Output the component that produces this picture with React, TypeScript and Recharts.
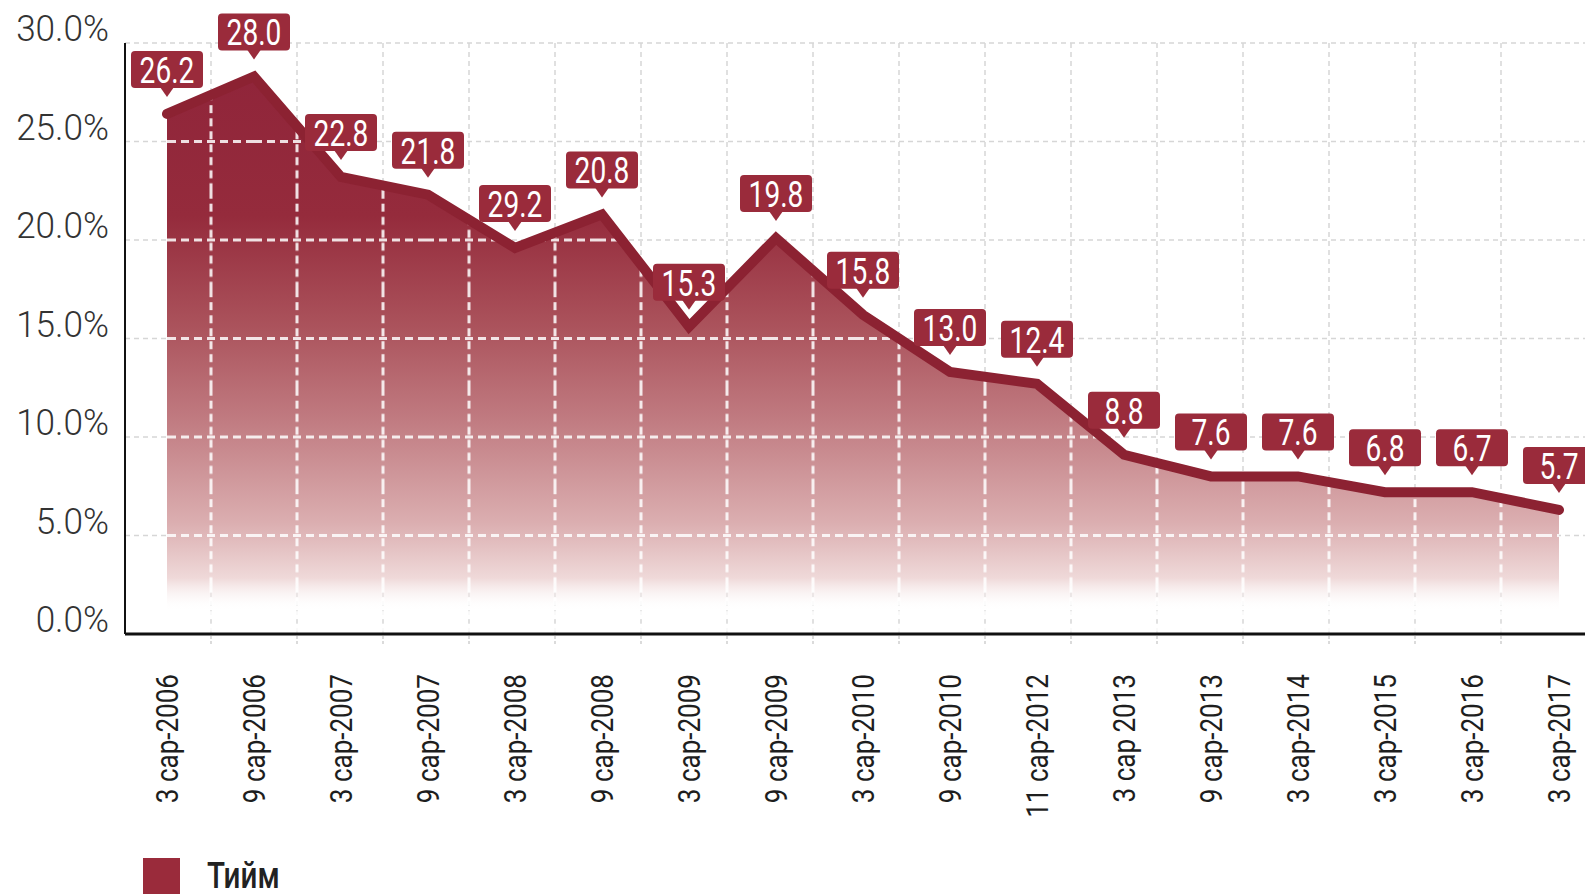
import React from 'react';
import { AreaChart, Area, XAxis, YAxis, CartesianGrid, Legend, LabelList } from 'recharts';

const periods = [
  '3 сар-2006', '9 сар-2006', '3 сар-2007', '9 сар-2007', '3 сар-2008', '9 сар-2008',
  '3 сар-2009', '9 сар-2009', '3 сар-2010', '9 сар-2010', '11 сар-2012', '3 сар 2013',
  '9 сар-2013', '3 сар-2014', '3 сар-2015', '3 сар-2016', '3 сар-2017',
];
const values = [26.4, 28.3, 23.2, 22.3, 19.6, 21.3, 15.6, 20.1, 16.2, 13.3, 12.7, 9.1, 8.0, 8.0, 7.2, 7.2, 6.3];
const callouts = ['26.2', '28.0', '22.8', '21.8', '29.2', '20.8', '15.3', '19.8', '15.8', '13.0', '12.4', '8.8', '7.6', '7.6', '6.8', '6.7', '5.7'];
const yTicks = [0, 5, 10, 15, 20, 25, 30];
const seriesName = 'Тийм';

const data = periods.map((period, i) => ({ period, value: values[i], callout: callouts[i] }));

// layout
const CHART_W = 1612;
const CHART_H = 896;
const MARGIN = { top: 43, right: 25, bottom: 62, left: 0 };
const Y_AXIS_W = 125;
const X_AXIS_H = 200;
const PLOT_LEFT = MARGIN.left + Y_AXIS_W;
const PLOT_TOP = MARGIN.top;
const PLOT_W = CHART_W - PLOT_LEFT - MARGIN.right;
const PLOT_H = CHART_H - MARGIN.top - MARGIN.bottom - X_AXIS_H;
const BANDS = periods.length;
const GRID_STEP = PLOT_W / BANDS;
const Y_STEP = PLOT_H / (yTicks.length - 1);

// no condensed font installed, so regular Roboto is squeezed horizontally
const FONT = "Roboto, 'Noto Sans', sans-serif";
const RED = '#9a2b3b';
const LINE = '#8c2232';

const Callout = (props: any) => {
  const { x, y, index } = props;
  if (x == null || y == null) return null;
  const w = 72;
  const h = 37;
  const tip = y - 17;
  const bottom = tip - 9;
  const top = bottom - h;
  return (
    <g>
      <rect x={x - w / 2} y={top} width={w} height={h} rx={4} fill={RED} />
      <path d={`M${x - 7},${bottom - 1} L${x + 7},${bottom - 1} L${x},${tip} Z`} fill={RED} />
      <g transform={`translate(${x},${top + h / 2}) scale(0.76,1)`}>
        <text x={0} y={0} dy="0.36em" textAnchor="middle" fill="#fff" fontFamily={FONT} fontSize={37}>
          {data[index].callout}
        </text>
      </g>
    </g>
  );
};

const XTick = (props: any) => {
  const { x, y, payload, index } = props;
  const gx = PLOT_LEFT + (index + 1) * GRID_STEP;
  return (
    <g>
      {index < BANDS - 1 && (
        <line x1={gx} y1={y + 2} x2={gx} y2={y + 10} stroke="#cfcfcf" strokeWidth={1.5} strokeDasharray="3 2" />
      )}
      <g transform={`translate(${x},${y + 40}) rotate(-90) scale(0.84,1)`}>
        <text x={0} y={0} textAnchor="end" dy="0.36em" fill="#1e1e1e" fontFamily={FONT} fontSize={31}>
          {payload.value}
        </text>
      </g>
    </g>
  );
};

const YTick = (props: any) => {
  const { x, y, payload } = props;
  return (
    <g transform={`translate(${x},${y - 15}) scale(0.95,1)`}>
      <text x={0} y={0} dy="0.36em" textAnchor="end" fill="#333" fontFamily={FONT} fontWeight={300} fontSize={37}>
        {Number(payload.value).toFixed(1)}%
      </text>
    </g>
  );
};

const LegendContent = () => (
  <div style={{ display: 'flex', alignItems: 'center', height: 36 }}>
    <div style={{ width: 37, height: 36, background: RED }} />
    <span style={{
      marginLeft: 27, fontFamily: FONT, fontWeight: 500, fontSize: 37, lineHeight: '36px', color: '#222',
      display: 'inline-block', transform: 'scaleX(0.8)', transformOrigin: 'left center',
    }}>{seriesName}</span>
  </div>
);

const App: React.FC = () => {
  const vGrid = Array.from({ length: BANDS - 1 }, (_, j) => PLOT_LEFT + (j + 1) * GRID_STEP);
  return (
    <div style={{ position: 'fixed', left: 0, top: 0, width: 1585, height: 896, overflow: 'hidden', background: '#fff' }}>
      <AreaChart width={CHART_W} height={CHART_H} data={data} margin={MARGIN}>
        <defs>
          <linearGradient id="fade" x1="0" y1="0" x2="0" y2="1">
            <stop offset="0" stopColor="#90253a" />
            <stop offset="0.25" stopColor="#952b3c" />
            <stop offset="0.45" stopColor="#ab535c" />
            <stop offset="0.62" stopColor="#c17c82" />
            <stop offset="0.8" stopColor="#dbaeb0" />
            <stop offset="0.9" stopColor="#efd9d9" />
            <stop offset="0.96" stopColor="#ffffff" stopOpacity={0} />
          </linearGradient>
          <pattern id="wgrid" patternUnits="userSpaceOnUse" x={PLOT_LEFT - GRID_STEP / 2} y={PLOT_TOP - Y_STEP / 2}
            width={GRID_STEP} height={Y_STEP}>
            <line x1={GRID_STEP / 2} y1={0} x2={GRID_STEP / 2} y2={Y_STEP} stroke="#fff" strokeOpacity={0.85}
              strokeWidth={3} strokeDasharray="8 5" />
            <line x1={0} y1={Y_STEP / 2} x2={GRID_STEP} y2={Y_STEP / 2} stroke="#fff" strokeOpacity={0.85}
              strokeWidth={3} strokeDasharray="8 5" />
          </pattern>
        </defs>
        <CartesianGrid stroke="#d6d6d6" strokeWidth={1.5} strokeDasharray="5 4" verticalPoints={vGrid} />
        <XAxis dataKey="period" height={X_AXIS_H} padding={{ left: 42, right: 28 }} interval={0}
          axisLine={{ stroke: '#111', strokeWidth: 3 }} tickLine={false} tickSize={0} tickMargin={0} tick={<XTick />} />
        <YAxis width={Y_AXIS_W} domain={[0, 30]} ticks={yTicks} axisLine={{ stroke: '#111', strokeWidth: 2 }}
          tickLine={false} tickSize={0} tickMargin={16} tick={<YTick />} />
        <Area type="linear" dataKey="value" stroke="none" fill="url(#fade)" fillOpacity={1} isAnimationActive={false} />
        <Area type="linear" dataKey="value" name={seriesName} stroke={LINE} strokeWidth={10} strokeLinecap="round"
          fill="url(#wgrid)" fillOpacity={1} isAnimationActive={false}>
          <LabelList dataKey="value" content={<Callout />} />
        </Area>
        <Legend layout="horizontal" verticalAlign="middle" content={<LegendContent />}
          wrapperStyle={{ left: 143, top: 858, width: 'auto' }} />
      </AreaChart>
    </div>
  );
};

export default App;
